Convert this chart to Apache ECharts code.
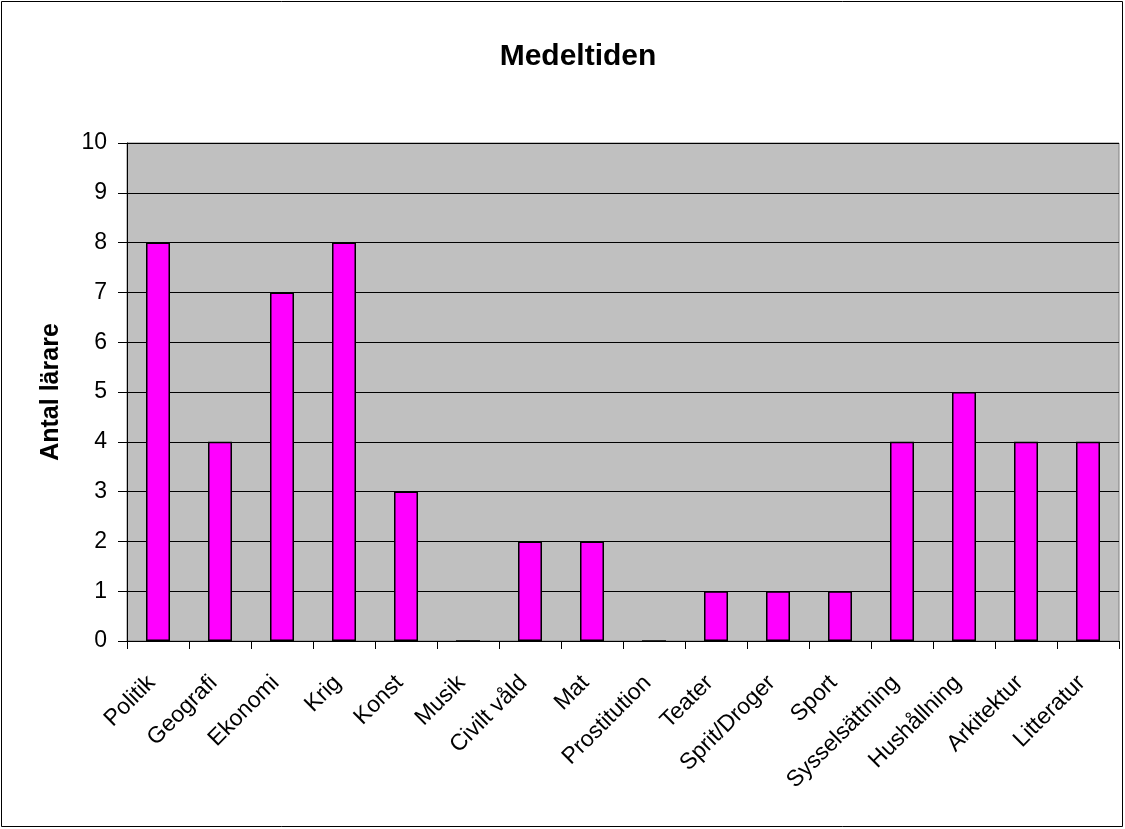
<!DOCTYPE html>
<html>
<head>
<meta charset="utf-8">
<script src="https://cdn.jsdelivr.net/npm/echarts@6/dist/echarts.min.js"></script>
<style>
html,body{margin:0;padding:0;background:#fff;}
#c{width:1125px;height:829px;}
</style>
</head>
<body>
<div id="c"></div>
<script>
const categories = ['Politik','Geografi','Ekonomi','Krig','Konst','Musik','Civilt våld','Mat','Prostitution','Teater','Sprit/Droger','Sport','Sysselsättning','Hushållning','Arkitektur','Litteratur'];
const values = [8,4,7,8,3,0,2,2,0,1,1,1,4,5,4,4];
const titleText = 'Medeltiden';
const yName = 'Antal lärare';

const chart = echarts.init(document.getElementById('c'), null, {renderer:'canvas'});
const font = '"Liberation Sans", Arial, sans-serif';
chart.setOption({
  animation:false,
  backgroundColor:'#fff',
  textStyle:{fontFamily:font},
  title:{text:titleText,left:573,textAlign:'center',top:37,textStyle:{fontFamily:font,fontSize:30,fontWeight:'bold',color:'#000'}},
  graphic:[{type:'rect',shape:{x:1.5,y:1.5,width:1121,height:825},style:{fill:'none',stroke:'#000',lineWidth:1},silent:true}],
  grid:{left:127,right:6,top:143,bottom:188,show:true,backgroundColor:'#C0C0C0',borderColor:'#808080',borderWidth:1},
  xAxis:{type:'category',data:categories,
    axisLine:{show:true,lineStyle:{color:'#000',width:1}},
    axisTick:{show:true,length:8,lineStyle:{color:'#000'}},
    axisLabel:{rotate:45,interval:0,fontSize:23,color:'#000',fontFamily:font,margin:32,padding:[0,9,0,0]}},
  yAxis:{type:'value',min:0,max:10,interval:1,
    name:yName,nameLocation:'middle',nameGap:63,nameRotate:90,
    nameTextStyle:{fontSize:25,fontWeight:'bold',color:'#000',fontFamily:font},
    axisLine:{show:true,lineStyle:{color:'#000',width:1}},
    axisTick:{show:true,length:9,lineStyle:{color:'#000'}},
    axisLabel:{fontSize:23,color:'#000',fontFamily:font,margin:20},
    splitLine:{show:true,lineStyle:{color:'#000',width:1}}},
  series:[{type:'bar',data:values,barWidth:24,
    itemStyle:{color:'#FF00FF',borderColor:'#000',borderWidth:1.5}}]
});
</script>
</body>
</html>
